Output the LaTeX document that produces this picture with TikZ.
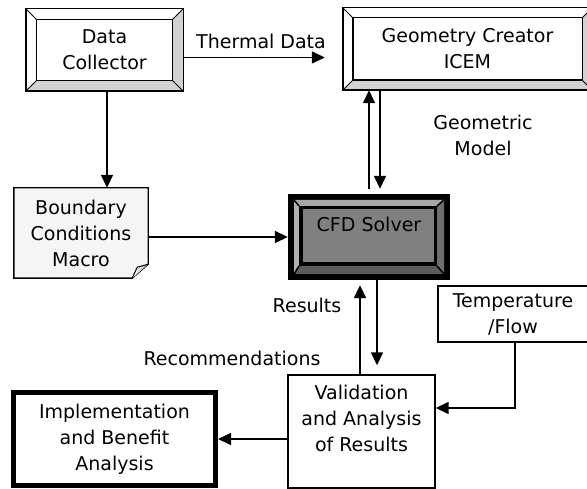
\documentclass[tikz,border=0pt]{standalone}
\usepackage{fontspec}
\setmainfont{DejaVu Sans}
\usetikzlibrary{arrows.meta,calc,backgrounds}
\definecolor{bevlight}{HTML}{D2D2D2}
\definecolor{cfdfill}{HTML}{808080}
\definecolor{cfdtop}{HTML}{A6A6A6}
\definecolor{cfdleft}{HTML}{B2B2B2}
\definecolor{cfdright}{HTML}{6E6E6E}
\definecolor{cfdbot}{HTML}{5C5C5C}
\definecolor{notefill}{HTML}{F5F5F5}
\newcommand\bvbox[2]{%
  \fill[white] (#1.north west) rectangle (#1.south east);
  \fill[bevlight] (#1.north east) -- (#1.south east) -- ($(#1.south east)+(-#2,-#2)$) -- ($(#1.north east)+(-#2,#2)$) -- cycle;
  \fill[bevlight] (#1.south west) -- (#1.south east) -- ($(#1.south east)+(-#2,-#2)$) -- ($(#1.south west)+(#2,-#2)$) -- cycle;
  \draw[line width=1.4pt] (#1.north west) rectangle (#1.south east);
  \draw[line width=1.4pt] ($(#1.north west)+(#2,#2)$) rectangle ($(#1.south east)+(-#2,-#2)$);
  \draw[line width=0.9pt] (#1.north west) -- ++(#2,#2);
  \draw[line width=0.9pt] (#1.north east) -- ++(-#2,#2);
  \draw[line width=0.9pt] (#1.south west) -- ++(#2,-#2);
  \draw[line width=0.9pt] (#1.south east) -- ++(-#2,-#2);
}
\begin{document}
\begin{tikzpicture}[x=1pt,y=-1pt,
  every node/.style={font=\fontsize{19}{26}\selectfont, align=center, inner sep=0pt},
  arr/.style={-{Triangle[length=13pt,width=12pt]}, line width=1.5pt},
  plainbox/.style={draw, line width=1.4pt, fill=white},
  thickbox/.style={draw, line width=5pt, fill=white},
  lbl/.style={}
]
\useasboundingbox (0,0) rectangle (587,489);
\clip (0,0) rectangle (587,489);

% nodes
\node[minimum width=157pt, minimum height=82pt] (dc) at (104.5,50) {Data\\Collector};
\node[minimum width=249pt, minimum height=82pt] (geo) at (467.5,49) {Geometry Creator\\ICEM};
\node[minimum width=134pt, minimum height=90pt] (bcm) at (81,233) {Boundary\\Conditions\\Macro};
\node[minimum width=162pt, minimum height=86pt] (cfd) at (369,237) {CFD Solver\\\mbox{}};
\node[plainbox, minimum width=150pt, minimum height=56pt] (temp) at (513,314) {Temperature\\/Flow};
\node[plainbox, minimum width=147pt, minimum height=113pt] (val) at (361.5,431.5) {Validation\\and Analysis\\of Results\\\mbox{}};
\node[thickbox, minimum width=202pt, minimum height=93pt] (impl) at (114.5,439) {Implementation\\and Benefit\\Analysis};

\begin{scope}[on background layer]
  \bvbox{dc}{10.5}
  \bvbox{geo}{10}
  % boundary conditions macro (note with folded corner)
  \filldraw[fill=notefill, line width=1.4pt] (bcm.north west) -- (bcm.north east) -- ($(bcm.south east)+(0,-14)$) -- ($(bcm.south east)+(-16,0)$) -- (bcm.south west) -- cycle;
  \shade[left color=white, right color=gray!70] ($(bcm.south east)+(0,-14)$) -- ($(bcm.south east)+(-11,-11)$) -- ($(bcm.south east)+(-16,0)$) -- cycle;
  \draw[line width=1.0pt, line join=round] ($(bcm.south east)+(0,-14)$) -- ($(bcm.south east)+(-11,-11)$) -- ($(bcm.south east)+(-16,0)$);
  % CFD solver
  \fill[black] (cfd.north west) rectangle (cfd.south east);
  \fill[cfdtop] (294,200) -- (444,200) -- (437,206) -- (299,206) -- cycle;
  \fill[cfdleft] (294,200) -- (294,274) -- (299,266) -- (299,206) -- cycle;
  \fill[cfdright] (444,200) -- (444,274) -- (437,266) -- (437,206) -- cycle;
  \fill[cfdbot] (294,274) -- (444,274) -- (437,266) -- (299,266) -- cycle;
  \draw[line width=1.5pt] (294,200) -- (299,206) (444,200) -- (437,206) (294,274) -- (299,266) (444,274) -- (437,266);
  \fill[black] (299,206) rectangle (437,266);
  \fill[cfdfill] (302.5,209.5) rectangle (433.5,262.5);
\end{scope}

% connectors
\draw[arr] ($(dc.east)+(0,7.5)$) -- ($(geo.west)+(-18,8.5)$);
\node[lbl] (tdl) at (261,41) {Thermal Data};

\coordinate (d1) at ($(dc.south)+(2.5,0)$);
\draw[arr] (d1) -- (d1 |- bcm.north);

\draw[arr] (bcm.east |- cfd.west) -- (cfd.west);

\coordinate (g0) at ($(cfd.north)+(0,-5)$);
\draw[arr] (g0) -- (g0 |- geo.south);
\coordinate (g1) at ($(cfd.north)+(11,-5)$);
\draw[arr] (g1 |- geo.south) -- (g1);
\node[lbl] (gml) at (483,135.5) {Geometric\\Model};

\coordinate (r1) at ($(cfd.south)+(-9,5)$);
\draw[arr] (r1 |- val.north) -- (r1);
\coordinate (r2) at ($(val.north)+(15.5,-9)$);
\draw[arr] (r2 |- cfd.south) -- (r2);
\node[lbl] (resl) at (307,305) {Results};
\node[lbl] (recl) at (232,358) {Recommendations};

\coordinate (t1) at ($(val.east)+(0,-23.5)$);
\draw[arr] ([xshift=2pt]temp.south) |- (t1);

\draw[arr] (val.west |- impl.east) -- (impl.east);
\end{tikzpicture}
\end{document}
